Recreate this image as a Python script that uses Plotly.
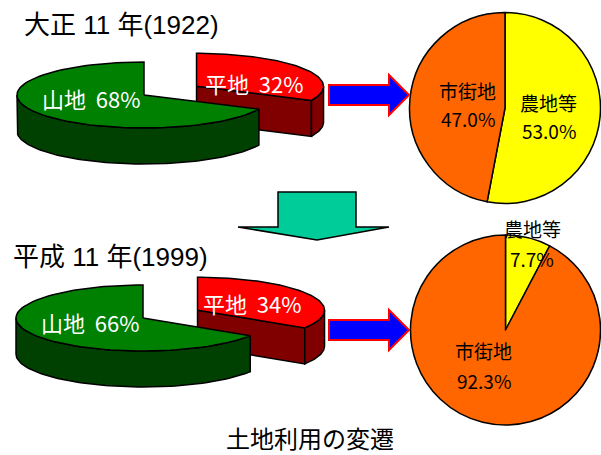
import numpy as np
import plotly.graph_objects as go

# ---------------- data ----------------
year_labels = ["大正 11 年(1922)", "平成 11 年(1999)"]
terrain_labels = ["平地", "山地"]
terrain_1922 = [32, 68]
terrain_1999 = [34, 66]
use_labels = ["農地等", "市街地"]
use_1922 = [53.0, 47.0]
use_1999 = [7.7, 92.3]
chart_title = "土地利用の変遷"

# ---------------- layout constants (pixels) ----------------
W, H = 601, 455
RX, RY, DEPTH, EXPLODE = 127, 33, 36, 0.49
rows = [
    dict(cx=144, cy=95, terrain=terrain_1922, use=use_1922, year=year_labels[0],
         year_pos=(22, 25), arrow_y=95,
         pie_dom=dict(x=[409.5 / W, 600.5 / W], y=[1 - 203.5 / H, 1 - 12.5 / H]),
         terr_lab=[(254, 83), (91, 98)],
         use_lab=[[(548, 102), (549, 130)], [(467, 90), (468, 118)]]),
    dict(cx=143, cy=318, terrain=terrain_1999, use=use_1999, year=year_labels[1],
         year_pos=(11, 257), arrow_y=330,
         pie_dom=dict(x=[410.5 / W, 600.5 / W], y=[1 - 425 / H, 1 - 235 / H]),
         terr_lab=[(252, 303), (90, 322)],
         use_lab=[[(532, 228), (532, 258)], [(483, 350), (484, 380)]]),
]

GREEN_TOP, GREEN_SIDE = "#008000", "#004000"
RED_TOP, RED_SIDE = "#FF0000", "#800000"
YELLOW, ORANGE = "#FFFF00", "#FF6600"

CJK = "Noto Sans CJK JP"
NARROW = "Liberation Sans Narrow, Arial Narrow, " + CJK
REG = "Liberation Sans, Arial, " + CJK


def arc(cx, cy, t0, t1, dy=0.0, n=80):
    t = np.radians(np.linspace(t0, t1, n))
    return list(cx + RX * np.sin(t)), list(cy - RY * np.cos(t) + dy)


def poly(xs, ys, fill):
    return go.Scatter(x=xs + [xs[0]], y=ys + [ys[0]], mode="lines", fill="toself",
                      fillcolor=fill, line=dict(color="black", width=1.5),
                      hoverinfo="skip", showlegend=False)


fig = go.Figure()
annotations = []
shapes = []

for row in rows:
    cx, cy = row["cx"], row["cy"]
    flat, mount = row["terrain"]
    a = flat / (flat + mount) * 360.0
    # exploded flat-land slice
    mid = np.radians(a / 2)
    rcx = cx + EXPLODE * RX * np.sin(mid)
    rcy = cy - EXPLODE * RY * np.cos(mid)
    ex = rcx + RX * np.sin(np.radians(a))
    ey = rcy - RY * np.cos(np.radians(a))
    # cut face
    fig.add_trace(poly([rcx, ex, ex, rcx], [rcy, ey, ey + DEPTH, rcy + DEPTH], RED_SIDE))
    # outer side
    if a > 90:
        tx, ty = arc(rcx, rcy, 90, min(a, 270))
        bx, by = arc(rcx, rcy, 90, min(a, 270), dy=DEPTH)
        fig.add_trace(poly(tx + bx[::-1], ty + by[::-1], RED_SIDE))
    tx, ty = arc(rcx, rcy, 0, a)
    fig.add_trace(poly([rcx] + tx, [rcy] + ty, RED_TOP))
    # mountain slice
    s0 = max(a, 90)
    tx, ty = arc(cx, cy, s0, 270)
    bx, by = arc(cx, cy, s0, 270, dy=DEPTH)
    fig.add_trace(poly(tx + bx[::-1], ty + by[::-1], GREEN_SIDE))
    tx, ty = arc(cx, cy, a, 360)
    fig.add_trace(poly([cx] + tx, [cy] + ty, GREEN_TOP))

    for (lx, ly), lab, val in zip(row["terr_lab"], terrain_labels, row["terrain"]):
        annotations.append(dict(x=lx, y=ly, xref="x", yref="y", showarrow=False,
                                text=f"{lab}  {val}%",
                                font=dict(family=NARROW, size=22, color="white")))

    # land-use pie
    fig.add_trace(go.Pie(labels=use_labels, values=row["use"], sort=False,
                         direction="clockwise", rotation=0, textinfo="none",
                         marker=dict(colors=[YELLOW, ORANGE], line=dict(color="black", width=1.5)),
                         domain=row["pie_dom"], showlegend=False, hoverinfo="skip"))
    for pos, lab, val in zip(row["use_lab"], use_labels, row["use"]):
        annotations.append(dict(x=pos[0][0], y=pos[0][1], xref="x", yref="y", showarrow=False,
                                text=lab, font=dict(family=CJK, size=19, color="black")))
        annotations.append(dict(x=pos[1][0], y=pos[1][1], xref="x", yref="y", showarrow=False,
                                text=f"{val:.1f}%", font=dict(family=NARROW, size=19, color="black")))

    # year label
    annotations.append(dict(x=row["year_pos"][0], y=row["year_pos"][1], xref="x", yref="y",
                            xanchor="left", showarrow=False, text=row["year"],
                            font=dict(family=REG, size=26, color="black")))

    # blue arrow
    ay = row["arrow_y"]
    shapes.append(dict(type="path", xref="x", yref="y",
                       path=f"M329,{ay-10} L389,{ay-10} L389,{ay-20} L409,{ay} L389,{ay+20} L389,{ay+10} L329,{ay+10} Z",
                       fillcolor="#0000FF", line=dict(color="#FF0000", width=2)))

# down arrow
shapes.append(dict(type="path", xref="x", yref="y",
                   path="M278,192 L356,192 L356,227 L389,227 L317,240 L238,227 L278,227 Z",
                   fillcolor="#00CC99", line=dict(color="black", width=1.5)))

annotations.append(dict(x=310, y=437, xref="x", yref="y", showarrow=False, text=chart_title,
                        font=dict(family=CJK, size=24, color="black")))

fig.update_layout(
    width=W, height=H, margin=dict(l=0, r=0, t=0, b=0),
    paper_bgcolor="white", plot_bgcolor="white",
    xaxis=dict(range=[0, W], visible=False, fixedrange=True),
    yaxis=dict(range=[H, 0], visible=False, fixedrange=True),
    annotations=annotations, shapes=shapes,
)

fig.write_html("out.html")
